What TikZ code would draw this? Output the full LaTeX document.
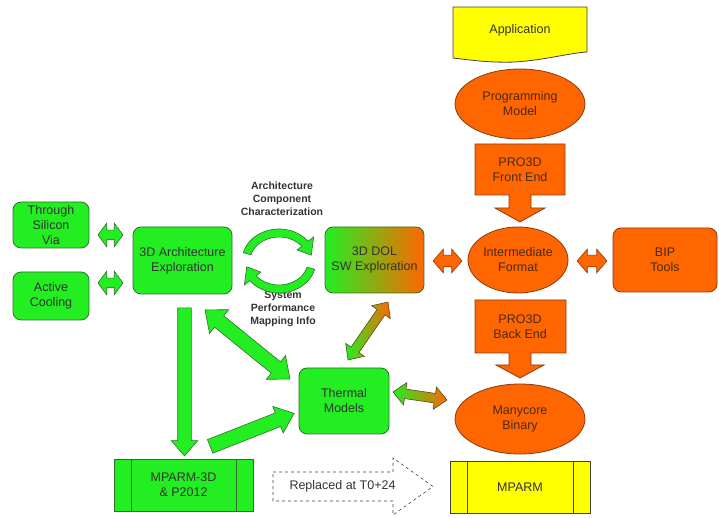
\documentclass[tikz,border=0pt]{standalone}
\usepackage{fontspec}
\setmainfont{Liberation Sans}
\usetikzlibrary{shapes.geometric,shapes.arrows,calc}

\definecolor{lgreen}{HTML}{22EE22}
\definecolor{gline}{HTML}{2F6F2F}
\definecolor{orng}{HTML}{FF6600}
\definecolor{oline}{HTML}{8A3A10}
\definecolor{ylw}{HTML}{FFFF00}
\definecolor{yline}{HTML}{404040}
\definecolor{txt}{HTML}{333333}
\definecolor{otxt}{HTML}{4A2A14}
\definecolor{midgo}{HTML}{A8D828}
\definecolor{mixline}{HTML}{5A4A1A}

% block arrow between two named points: option list, from, to
\newcommand\blockarrow[3][]{%
  \path let \p1=($(#3)-(#2)$), \n1={atan2(\y1,\x1)}, \n2={veclen(\x1,\y1)} in
    node[#1, rotate=\n1, minimum height=\n2] at ($(#2)!0.5!(#3)$) {};}

\begin{document}
\begin{tikzpicture}[x=1pt,y=1pt,
  lbl/.style={font=\fontsize{12.5}{15}\selectfont, align=center, inner sep=0pt},
  gbox/.style={lbl, draw=gline, line width=0.8pt, fill=lgreen, rounded corners=8pt, text=txt},
  obox/.style={lbl, draw=oline, line width=0.8pt, fill=orng, rounded corners=8pt, text=otxt},
  oell/.style={lbl, ellipse, draw=oline, line width=0.8pt, fill=orng, text=otxt},
  ofill/.style={draw=oline, line width=0.8pt, fill=orng},
  gproc/.style={lbl, draw=gline, line width=0.8pt, fill=lgreen, text=txt},
  yproc/.style={lbl, draw=yline, line width=0.8pt, fill=ylw, text=txt},
  caption/.style={font=\bfseries\fontsize{10.5}{13}\selectfont, align=center, text=txt, inner sep=0pt},
  arrbase/.style={inner sep=0pt, minimum width=0pt, line width=0.6pt},
  gdbl/.style={arrbase, double arrow, draw=gline, fill=lgreen},
  odbl/.style={arrbase, double arrow, draw=oline, fill=orng},
  mixdbl/.style={arrbase, double arrow, draw=mixline, left color=lgreen, right color=orng},
  gsgl/.style={arrbase, single arrow, draw=gline, fill=lgreen},
  cyc/.style={draw=gline, line width=0.6pt, fill=lgreen},
]
\useasboundingbox (0,0) rectangle (719,518);

% ---------- right column: PRO3D tool flow ----------
\draw[draw=yline, line width=0.8pt, fill=ylw]
  (453,460) -- (453,511) -- (587,511) -- (587,466)
  .. controls (570,465) and (545,458) .. (515,456)
  .. controls (490,455) and (470,458) .. (453,460) -- cycle;
\node[lbl, text=txt] (app) at (520,488) {Application};

\node[oell, minimum width=130, minimum height=70] (pm) at (520,414) {Programming\\Model};

\draw[ofill] (475,374) -- (565,374) -- (565,323) -- (531,323) -- (531,310)
  -- (545,310) -- (520,296) -- (495,310) -- (509,310) -- (509,323)
  -- (475,323) -- cycle;
\node[lbl, text=otxt] (fe) at (520,348.5) {PRO3D\\Front End};

\node[oell, minimum width=100, minimum height=66] (ifm) at (518,258) {Intermediate\\Format};
\node[obox, minimum width=104, minimum height=64] (bip) at (665,258) {BIP\\Tools};

\draw[ofill] (475,218) -- (566,218) -- (566,165) -- (531,165) -- (531,153)
  -- (544,153) -- (520,140) -- (496,153) -- (509,153) -- (509,165)
  -- (475,165) -- cycle;
\node[lbl, text=otxt] (be) at (520,191.5) {PRO3D\\Back End};

\node[oell, minimum width=130, minimum height=70] (mb) at (520,99) {Manycore\\Binary};

\node[yproc, minimum width=140, minimum height=52] (mparm) at (520,31) {MPARM};
\draw[yline, line width=0.8pt] ([xshift=18]mparm.north west) -- ([xshift=18]mparm.south west);
\draw[yline, line width=0.8pt] ([xshift=-17]mparm.north east) -- ([xshift=-17]mparm.south east);

% ---------- left part: 3D architecture ----------
\node[gbox, minimum width=76, minimum height=46] (tsv) at (51,293) {Through\\Silicon\\Via};
\node[gbox, minimum width=76, minimum height=48] (ac) at (51,222) {Active\\Cooling};
\node[gbox, minimum width=99, minimum height=67] (arch) at (182.5,257.5) {3D Architecture\\Exploration};
\node[lbl, draw=gline, line width=0.8pt, rounded corners=8pt, text=txt,
      left color=lgreen, middle color=midgo, right color=orng,
      minimum width=99, minimum height=66] (dol) at (374.5,258) {3D DOL\\SW Exploration};
\node[gbox, minimum width=90, minimum height=66] (thermal) at (344,117) {Thermal\\Models};
\node[gproc, minimum width=139, minimum height=52] (mp3d) at (183.5,33) {MPARM-3D\\\&\ P2012};
\draw[gline, line width=0.8pt] ([xshift=18]mp3d.north west) -- ([xshift=18]mp3d.south west);
\draw[gline, line width=0.8pt] ([xshift=-17]mp3d.north east) -- ([xshift=-17]mp3d.south east);

\node[caption] (charlbl) at (282,319) {Architecture\\Component\\Characterization};
\node[caption] (perflbl) at (283,209) {System\\Performance\\Mapping Info};

% cycle of the two curved arrows
\begin{scope}[shift={(279,257)}]
  \path[cyc] (165:37 and 32) arc[start angle=165, end angle=38, x radius=37, y radius=32]
    -- (38:44 and 39) -- (12:33 and 28) -- (38:23 and 18) -- (38:29 and 24)
    arc[start angle=38, end angle=165, x radius=29, y radius=24] -- cycle;
\end{scope}
\begin{scope}[shift={(279,257)}, rotate=180]
  \path[cyc] (165:37 and 32) arc[start angle=165, end angle=38, x radius=37, y radius=32]
    -- (38:44 and 39) -- (12:33 and 28) -- (38:23 and 18) -- (38:29 and 24)
    arc[start angle=38, end angle=165, x radius=29, y radius=24] -- cycle;
\end{scope}

% ---------- end points of the block arrows ----------
\coordinate (tsvA) at (98,283);   \coordinate (tsvB) at (123,283);
\coordinate (acA)  at (98,235);   \coordinate (acB)  at (123,235);
\coordinate (dolA) at (433,257);  \coordinate (dolB) at (462,257);
\coordinate (bipA) at (577,257);  \coordinate (bipB) at (607,257);
\coordinate (downA) at (184.5,214); \coordinate (downB) at (184.5,66);
\coordinate (atA) at (205,208);   \coordinate (atB) at (290,139);
\coordinate (mtA) at (206,70);    \coordinate (mtB) at (290,103);
\coordinate (tdA) at (348,158);   \coordinate (tdB) at (388,216);
\coordinate (tmA) at (393,126);   \coordinate (tmB) at (447,118);

\blockarrow[gdbl, inner ysep=4.5pt, double arrow head extend=7pt, double arrow tip angle=107]{tsvA}{tsvB}
\blockarrow[gdbl, inner ysep=4.5pt, double arrow head extend=7pt, double arrow tip angle=107]{acA}{acB}
\blockarrow[odbl, inner ysep=5.5pt, double arrow head extend=6pt, double arrow tip angle=98]{dolA}{dolB}
\blockarrow[odbl, inner ysep=5.5pt, double arrow head extend=6pt, double arrow tip angle=98]{bipA}{bipB}
\blockarrow[gsgl, inner ysep=6.5pt, single arrow head extend=6.5pt, single arrow tip angle=82]{downA}{downB}
\blockarrow[gdbl, inner ysep=7pt, double arrow head extend=8pt, double arrow tip angle=80]{atA}{atB}
\blockarrow[gsgl, inner ysep=7pt, single arrow head extend=7pt, single arrow tip angle=79]{mtA}{mtB}
\blockarrow[mixdbl, inner ysep=4.5pt, double arrow head extend=6.5pt, double arrow tip angle=85]{tdA}{tdB}
\blockarrow[mixdbl, inner ysep=4.5pt, double arrow head extend=6.5pt, double arrow tip angle=85]{tmA}{tmB}

% ---------- replacement note ----------
\draw[dashed, draw=yline, line width=0.6pt]
  (273,46) -- (393,46) -- (393,60) -- (433,31.5) -- (393,3) -- (393,17) -- (273,17) -- cycle;
\node[lbl, text=txt] (repl) at (342.5,31.5) {Replaced at T0+24};

\end{tikzpicture}
\end{document}
